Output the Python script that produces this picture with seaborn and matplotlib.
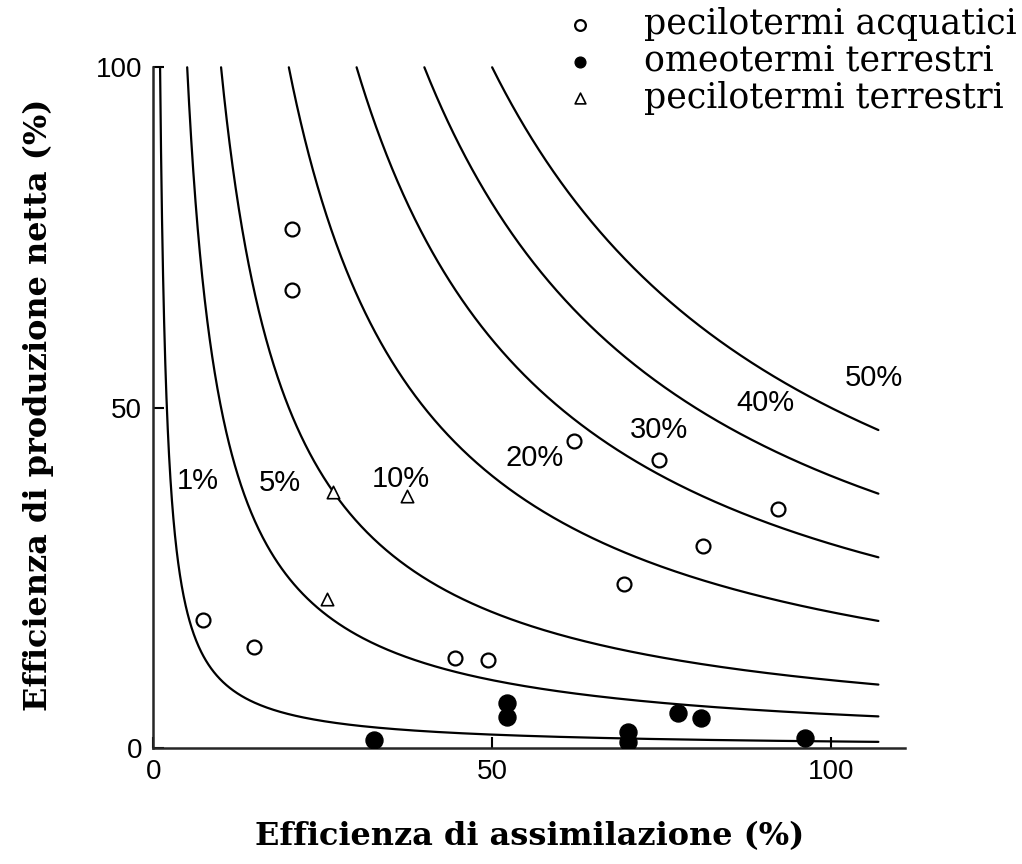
# import the libraries
import numpy as np
import pandas as pd
import seaborn as sns
import matplotlib.pyplot as plt

# points (assimilation %, net production %)
acq_x = [20.5, 20.5, 7.3, 14.8, 44.5, 49.4, 62.1, 74.6, 92.2, 81.1, 69.4]
acq_y = [76.3, 67.3, 18.9, 14.8, 13.3, 13.0, 45.1, 42.3, 35.2, 29.7, 24.1]

omeo_x = [32.5, 52.2, 52.2, 70.0, 70.0, 77.5, 80.8, 96.2]
omeo_y = [1.2, 6.7, 4.6, 2.4, 0.9, 5.2, 4.4, 1.5]

terr_x = [26.5, 37.4, 25.7]
terr_y = [37.7, 37.1, 21.9]

# ecological efficiency levels (%) and where their labels sit
levels = [1, 5, 10, 20, 30, 40, 50]
label_x = [6.6, 18.7, 36.5, 56.3, 74.6, 90.3, 106.4]
label_y = [39.2, 38.9, 39.5, 42.6, 46.7, 50.7, 54.4]

sns.set_style("ticks")
plt.rcParams["font.family"] = ["Liberation Sans", "DejaVu Sans"]
plt.rcParams["text.color"] = "black"
plt.rcParams["axes.labelcolor"] = "black"
plt.rcParams["xtick.color"] = "black"
plt.rcParams["ytick.color"] = "black"

fig = plt.figure(figsize=(10.22, 8.64), dpi=100)
ax = fig.add_axes([0.150, 0.134, 0.736, 0.796])

# iso-efficiency curves: assimilation * production = level
rows = []
for lvl in levels:
    for x in np.geomspace(lvl, 107, 500):
        rows.append({"level": lvl, "x": x, "y": 100 * lvl / x})
curves = pd.DataFrame(rows)
sns.lineplot(data=curves, x="x", y="y", units="level", estimator=None,
             sort=False, color="black", lw=1.6, ax=ax, legend=False)

for lvl, lx, ly in zip(levels, label_x, label_y):
    ax.text(lx, ly, f"{lvl}%", fontsize=21, ha="center", va="center")

# the three groups of animals
sns.scatterplot(x=acq_x, y=acq_y, marker="o", s=100, facecolor="white",
                edgecolor="black", linewidth=1.6, ax=ax,
                label="pecilotermi acquatici", zorder=3)
sns.scatterplot(x=omeo_x, y=omeo_y, marker="o", s=150, color="black",
                edgecolor="black", ax=ax, label="omeotermi terrestri", zorder=3)
sns.scatterplot(x=terr_x, y=terr_y, marker="^", s=80, facecolor="white",
                edgecolor="black", linewidth=1.2, ax=ax,
                label="pecilotermi terrestri", zorder=3)

ax.set_xlim(0, 111)
ax.set_ylim(0, 101)
ax.set_xticks([0, 50, 100])
ax.set_yticks([0, 50, 100])
ax.tick_params(direction="in", length=8, width=1.5, labelsize=20, pad=8)
sns.despine(ax=ax)
ax.spines["left"].set_bounds(0, 100)
ax.spines["left"].set_linewidth(1.8)
ax.spines["bottom"].set_linewidth(1.8)

ax.set_xlabel("Efficienza di assimilazione (%)", family="DejaVu Serif",
              fontweight="bold", fontsize=23, labelpad=26)
ax.set_ylabel("Efficienza di produzione netta (%)", family="DejaVu Serif",
              fontweight="bold", fontsize=23, labelpad=30)

# legend in the top right corner, outside the axes
handles, labels = ax.get_legend_handles_labels()
ax.get_legend().remove()
leg = fig.legend(handles, labels, loc="upper left", bbox_to_anchor=(0.530, 1.016),
                 frameon=False, handlelength=1.0, handletextpad=1.35,
                 labelspacing=0.08, borderpad=0.1,
                 prop={"family": "DejaVu Serif", "size": 25})
for h in leg.legend_handles:
    h.set_sizes([60])

fig.savefig("out.png", dpi=100)
